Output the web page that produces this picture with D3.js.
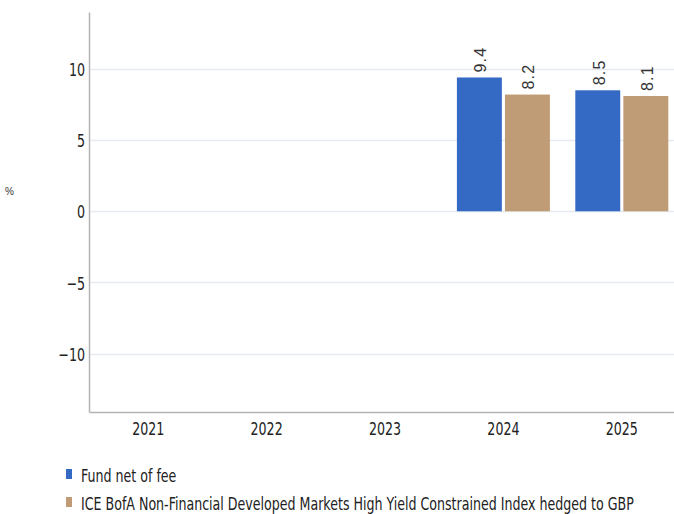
<!DOCTYPE html>
<html>
<head>
<meta charset="utf-8">
<script src="https://cdn.jsdelivr.net/npm/d3@7"></script>
<style>
  body { margin: 0; background: #fff; }
  .tick text, .legend text { font-family: "DejaVu Sans", sans-serif; font-stretch: condensed; font-size: 18px; fill: #222; }
  .val { font-family: "Liberation Sans", Arial, sans-serif; font-size: 16px; letter-spacing: 1.2px; fill: #333; }
</style>
</head>
<body>
<div id="chart"></div>
<script>
// DATA
// ------------------------------------------------------------------
var years = ["2021", "2022", "2023", "2024", "2025"];
var seriesNames = ["Fund net of fee",
  "ICE BofA Non-Financial Developed Markets High Yield Constrained Index hedged to GBP"];
var fundValues  = [null, null, null, 9.4, 8.5];
var indexValues = [null, null, null, 8.2, 8.1];
var yTicks = [-10, -5, 0, 5, 10];
var colors = ["#3469c4", "#bf9c75"];

// CANVAS
// ------------------------------------------------------------------
var width = 674,
    height = 514;

var svg = d3.select("#chart")
    .append("svg")
    .attr("width", width)
    .attr("height", height);

var plotLeft = 89, plotRight = 681, plotTop = 12, plotBottom = 412;
var sx = 0.78,
    squeeze = "scale(" + sx + ",1)";

var xScale = d3.scaleBand()
    .domain(years)
    .range([plotLeft, plotRight]);

var inner = d3.scaleBand()
    .domain([0, 1])
    .range([0, 93])
    .paddingInner(0.065);

var yScale = d3.scaleLinear()
    .domain([-14.1, 14])
    .range([plotBottom, plotTop]);

// GRID
// ------------------------------------------------------------------
svg.append("g")
    .selectAll("line")
    .data(yTicks)
    .join("line")
    .attr("x1", plotLeft)
    .attr("x2", width)
    .attr("y1", function(d) { return Math.round(yScale(d)) + 0.5; })
    .attr("y2", function(d) { return Math.round(yScale(d)) + 0.5; })
    .attr("stroke", "#e6eaf0")
    .attr("stroke-width", 1.5);

// AXES
// ------------------------------------------------------------------
var yAxis = d3.axisLeft(yScale)
    .tickValues(yTicks)
    .tickSize(0)
    .tickPadding(4)
    .tickFormat(function(d) { return d < 0 ? "\u2212" + Math.abs(d) : d; });

var gy = svg.append("g")
    .attr("transform", "translate(" + plotLeft + ",0)")
    .call(yAxis);
gy.select(".domain").attr("stroke", "#b3b3b3").attr("stroke-width", 1.5);
gy.selectAll(".tick text")
    .attr("x", -4 / sx)
    .attr("dy", "0.37em")
    .attr("transform", squeeze);

var xAxis = d3.axisBottom(xScale)
    .tickSize(0)
    .tickPadding(10);

var gx = svg.append("g")
    .attr("transform", "translate(0," + plotBottom + ")")
    .call(xAxis);
gx.select(".domain").attr("stroke", "#b3b3b3").attr("stroke-width", 1.5);
gx.selectAll(".tick text").attr("transform", squeeze);

svg.append("text")
    .attr("x", 5)
    .attr("y", 195)
    .style("font-family", "Liberation Sans, Arial, sans-serif")
    .style("font-size", "10px")
    .style("fill", "#333")
    .text("%");

// BARS
// ------------------------------------------------------------------
var series = [fundValues, indexValues];
var bars = [];
series.forEach(function(vals, si) {
  years.forEach(function(y, i) {
    if (vals[i] != null) bars.push({ year: y, s: si, v: vals[i] });
  });
});

var offset = (xScale.bandwidth() - 93) / 2;

svg.append("g")
    .selectAll("rect")
    .data(bars)
    .join("rect")
    .attr("x", function(d) { return xScale(d.year) + offset + inner(d.s); })
    .attr("width", inner.bandwidth())
    .attr("y", function(d) { return yScale(Math.max(0, d.v)); })
    .attr("height", function(d) { return Math.abs(yScale(d.v) - yScale(0)); })
    .attr("fill", function(d) { return colors[d.s]; });

svg.append("g")
    .selectAll("text")
    .data(bars)
    .join("text")
    .attr("class", "val")
    .attr("transform", function(d) {
      var cx = xScale(d.year) + offset + inner(d.s) + inner.bandwidth() / 2 + 7;
      var cy = yScale(d.v) - 5;
      return "translate(" + cx + "," + cy + ") rotate(-90)";
    })
    .text(function(d) { return d.v.toFixed(1); });

// LEGEND
// ------------------------------------------------------------------
var legend = svg.append("g")
    .attr("class", "legend")
    .selectAll("g")
    .data(seriesNames)
    .join("g")
    .attr("transform", function(d, i) { return "translate(66," + (469 + i * 28) + ")"; });

legend.append("rect")
    .attr("width", 6)
    .attr("height", 10)
    .attr("fill", function(d, i) { return colors[i]; });

legend.append("text")
    .attr("transform", "translate(15,13) " + squeeze)
    .text(function(d) { return d; });
</script>
</body>
</html>
